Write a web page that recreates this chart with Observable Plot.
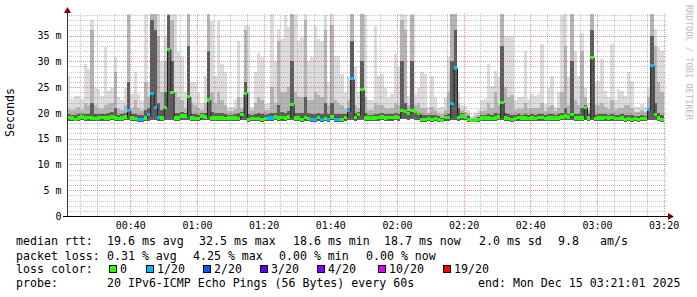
<!DOCTYPE html>
<html><head><meta charset="utf-8">
<script src="https://cdn.jsdelivr.net/npm/d3@7"></script>
<script src="https://cdn.jsdelivr.net/npm/@observablehq/plot@0.6"></script>
<style>html,body{margin:0;padding:0;background:#fff;} svg{display:block}</style>
</head><body><div id="chart"></div>
<script>
// ---- time frame (3 hours ending Mon Dec 15 03:21:01 2025), 60 s steps ----
const startTime = Date.UTC(2025, 11, 15, 0, 21, 1);
const endTime = Date.UTC(2025, 11, 15, 3, 21, 1);
const stepSec = 60;

// ---- smoke: ping RTT spread per 60 s step (ms) ----
const rttMax = [
 26.9,22.7,23.3,23.3,22.7,29.5,28.5,38.0,24.9,24.6,
 23.3,32.7,24.3,24.9,30.8,23.0,22.4,24.9,40,23.7,
 27.9,23.7,22.4,40,26.0,40,40,40,30.0,35.0,
 40,40,40,31.8,30.8,24.0,40,25.9,25.9,24.0,
 22.0,27.2,40,37.9,27.2,37.9,29.5,27.9,21.1,21.1,
 22.7,33.9,23.0,37.0,36.9,21.1,27.9,31.6,30.8,21.7,
 22.0,40,30.1,36.3,34.4,38.9,36.6,40,38.9,33.9,
 34.7,40,30.1,30.8,36.9,34.4,33.9,39.0,26.0,40,
 31.1,31.1,27.5,24.0,26.9,40,28.8,24.0,40,38.9,
 22.4,22.4,36.9,27.2,27.5,24.9,23.0,23.7,31.4,28.8,
 40,39.0,23.3,40,23.7,24.9,27.9,27.5,21.1,27.2,
 23.0,21.0,21.1,23.0,30.8,40,40,24.0,21.5,21.4,
 20.5,19.4,20.0,20.5,22.4,22.7,29.5,25.3,28.2,27.0,
 40,35.0,34.7,35.0,22.4,23.0,23.0,32.0,22.7,23.7,
 23.3,23.7,33.4,21.7,24.9,27.2,21.1,24.0,38.9,40,
 27.0,40,32.0,27.2,35.4,24.9,22.0,40,25.9,26.2,
 30.5,24.3,23.0,33.4,22.4,24.6,24.3,23.3,27.9,26.2,
 21.1,21.1,21.7,21.1,24.9,40,36.3,32.7,32.0
];
const rttP90 = [
 21.0,20.5,20.8,21.2,20.6,22.0,21.5,36.0,21.5,21.0,
 20.7,21.5,21.8,22.0,28.0,20.8,20.5,21.6,39.0,21.0,
 22.5,21.0,20.5,26.0,23.0,40,40,35.0,24.0,30.0,
 40,38.0,24.0,23.0,22.5,21.0,40,22.0,21.5,21.0,
 20.6,22.0,40,24.0,22.0,24.0,22.5,21.5,20.3,20.4,
 20.8,23.0,21.0,36.0,24.0,20.5,22.0,23.0,22.5,20.5,
 20.6,25.0,22.0,34.0,24.0,24.0,25.0,40,24.0,23.0,
 23.0,38.0,22.5,22.5,24.0,23.5,23.0,36.0,21.5,37.0,
 22.5,22.0,21.5,20.8,22.5,40,21.5,21.0,40,23.0,
 20.5,20.6,22.0,21.5,21.5,21.0,20.7,21.0,22.0,21.5,
 38.0,36.0,21.5,39.0,21.5,22.0,21.0,21.0,20.0,21.2,
 20.5,19.8,19.8,20.6,24.0,40,40,22.0,20.5,20.2,
 19.8,19.1,19.3,19.6,20.4,20.6,22.0,21.0,24.0,21.5,
 40,25.0,23.0,23.5,20.6,20.8,20.8,22.0,20.8,21.0,
 21.0,21.0,22.0,20.4,21.2,21.5,20.4,21.0,24.0,33.0,
 21.5,40,22.5,21.5,32.0,23.0,20.5,40,21.5,21.5,
 22.0,21.2,20.8,22.5,20.6,21.0,21.0,21.5,21.5,21.0,
 20.2,20.2,20.5,20.2,23.0,40,33.0,26.0,24.0
];
const rttP75 = [
 19.7,19.6,19.5,19.7,19.8,19.8,19.8,22.0,19.7,19.8,
 19.8,19.7,20.0,20.2,21.0,19.6,19.7,20.0,26.0,19.7,
 19.8,19.6,19.5,20.5,21.0,38.0,36.0,22.0,20.5,24.0,
 39.0,30.0,20.0,19.9,20.2,20.0,33.0,19.8,19.7,19.6,
 19.9,20.0,32.0,20.2,19.9,20.0,19.9,19.8,19.6,19.6,
 19.7,20.0,20.2,26.0,19.8,19.6,19.8,19.9,19.8,19.6,
 19.7,20.0,20.0,21.5,20.2,20.0,20.4,30.0,20.0,20.0,
 20.0,23.0,20.0,19.8,19.8,20.0,19.8,22.0,19.7,22.0,
 19.8,19.8,19.7,19.8,21.0,34.0,19.9,20.2,30.0,19.9,
 19.6,19.6,19.8,19.8,19.9,19.7,19.7,19.8,19.9,19.8,
 30.0,22.0,20.3,30.0,20.5,20.2,19.5,19.5,19.5,19.5,
 19.5,19.3,19.1,19.6,19.8,30.0,36.0,21.0,19.9,19.6,
 19.3,18.9,18.9,19.2,19.5,19.6,19.7,19.6,20.0,19.8,
 33.0,20.0,19.7,19.6,19.5,19.7,19.6,19.8,19.6,19.7,
 19.6,19.8,19.8,19.5,19.7,19.7,19.6,19.7,20.0,21.0,
 19.8,30.0,19.8,19.7,21.0,21.5,19.7,36.0,19.6,19.7,
 19.8,19.7,19.6,19.8,19.5,19.6,19.7,19.5,19.6,19.5,
 19.4,19.3,19.5,19.4,21.0,35.0,22.0,20.0,19.5
];
const rttMin = [
 18.5,18.5,18.4,18.5,18.6,18.5,18.5,18.5,18.4,18.5,
 18.5,18.5,18.5,18.6,18.5,18.4,18.5,18.6,18.6,18.5,
 18.4,18.3,18.3,18.5,18.5,18.6,18.6,18.5,18.5,18.6,
 18.7,18.6,18.5,18.5,18.6,18.6,18.6,18.5,18.4,18.4,
 18.6,18.6,18.6,18.5,18.5,18.5,18.5,18.4,18.5,18.5,
 18.5,18.4,18.6,18.6,18.3,18.4,18.4,18.4,18.3,18.4,
 18.4,18.4,18.6,18.5,18.5,18.5,18.6,18.6,18.5,18.5,
 18.3,18.5,18.4,18.3,18.3,18.5,18.3,18.4,18.3,18.6,
 18.3,18.3,18.3,18.5,18.6,18.7,18.5,18.6,18.6,18.5,
 18.5,18.5,18.5,18.5,18.6,18.5,18.5,18.5,18.6,18.5,
 18.8,18.8,18.6,18.8,18.7,18.6,18.3,18.3,18.4,18.3,
 18.4,18.3,18.2,18.5,18.5,18.6,18.7,18.5,18.6,18.6,
 18.3,18.2,18.2,18.3,18.5,18.5,18.5,18.4,18.5,18.6,
 18.6,18.5,18.4,18.3,18.4,18.5,18.5,18.5,18.4,18.5,
 18.4,18.5,18.5,18.4,18.5,18.5,18.5,18.5,18.6,18.6,
 18.6,18.6,18.5,18.5,18.5,18.6,18.5,18.7,18.4,18.5,
 18.5,18.5,18.5,18.5,18.4,18.4,18.5,18.3,18.4,18.3,
 18.4,18.3,18.4,18.4,18.6,18.7,18.6,18.5,18.2
];
// ---- median RTT (ms) and lost pings (of 20) per step ----
const medianRtt = [
 19.1,19.0,18.8,19.0,19.2,19.0,19.1,19.0,18.9,19.0,
 19.1,19.0,19.0,19.2,19.0,18.9,19.0,19.2,20.4,19.0,
 18.9,18.8,18.8,19.0,19.6,23.8,21.1,19.1,19.0,21.1,
 32.3,24.0,19.0,19.0,19.4,19.4,23.1,19.0,18.9,18.9,
 19.4,19.2,22.5,19.0,19.0,19.0,19.0,18.9,19.0,19.0,
 19.0,18.9,19.7,23.8,18.8,18.9,18.9,18.9,18.8,18.9,
 19.0,19.0,19.2,19.0,19.1,19.0,19.2,21.7,19.0,19.0,
 18.8,19.1,18.9,18.8,18.8,19.1,18.8,18.9,18.8,19.2,
 18.8,18.8,18.8,19.1,20.4,26.6,19.1,19.7,24.5,19.0,
 19.0,19.0,19.0,19.1,19.2,19.0,19.1,19.1,19.2,19.1,
 20.4,20.2,19.8,20.4,20.2,19.8,18.8,18.8,18.9,18.8,
 18.9,18.8,18.6,19.1,19.1,21.9,28.7,19.1,19.4,19.2,
 18.8,18.6,18.6,18.8,19.0,19.0,19.0,18.9,19.0,19.2,
 22.0,19.0,18.9,18.8,18.9,19.1,19.0,19.0,18.9,19.0,
 18.9,19.1,19.1,18.9,19.0,19.0,19.0,19.0,19.2,19.4,
 19.2,19.7,19.0,19.0,19.0,21.1,19.0,30.8,18.9,19.0,
 19.0,19.1,19.0,19.1,18.9,18.9,19.0,18.8,18.9,18.8,
 18.9,18.8,18.9,18.9,20.7,29.2,19.7,19.0,18.7
];
const lostPings = [
 0,0,0,0,0,0,0,0,0,0,
 0,0,0,0,0,0,0,0,1,0,
 0,1,1,0,1,1,1,1,0,0,
 0,0,0,0,0,0,0,0,0,0,
 0,0,0,0,0,0,0,0,0,0,
 0,0,0,0,0,0,0,0,0,0,
 1,1,0,0,0,0,0,0,0,0,
 0,0,0,1,1,0,1,0,1,0,
 1,1,0,0,1,1,0,0,0,0,
 0,0,0,0,0,0,0,0,0,0,
 0,0,0,0,0,0,0,0,0,0,
 0,0,0,0,0,1,1,0,0,0,
 0,0,0,0,0,0,0,0,0,0,
 0,0,0,0,0,0,0,0,0,0,
 0,0,0,0,0,0,0,0,0,0,
 0,0,0,0,0,0,0,0,0,0,
 0,0,0,0,0,0,0,0,0,0,
 0,0,0,0,1,1,0,0,0
];

// ---- loss colour legend ----
const lossLevels = [0, 1, 2, 3, 4, 10, 19];
const lossLabels = ["0", "1/20", "2/20", "3/20", "4/20", "10/20", "19/20"];
const lossColors = ["#26ff00", "#00b8ff", "#0059ff", "#5e00ff", "#7e00ff", "#dd00ff", "#ff0000"];

// ---- axis ticks / text ----
const yTicks = [0, 5, 10, 15, 20, 25, 30, 35];
const yMax = 39.17;
const medianStats = ["median rtt:", "19.6 ms avg", "32.5 ms max", "18.6 ms min", "18.7 ms now", "2.0 ms sd", "9.8", "am/s"];
const lossStats = ["packet loss:", "0.31 % avg", "4.25 % max", "0.00 % min", "0.00 % now"];
const probeText = ["probe:", "20 IPv6-ICMP Echo Pings (56 Bytes) every 60s", "end: Mon Dec 15 03:21:01 2025"];

function lossColor(l) {
  let c = lossColors[0];
  for (let i = 0; i < lossLevels.length; i++) if (l >= lossLevels[i]) c = lossColors[i];
  return c;
}

const samples = medianRtt.map((m, i) => ({
  t0: new Date(startTime + i * stepSec * 1000),
  t1: new Date(startTime + (i + 1) * stepSec * 1000),
  min: rttMin[i], max: rttMax[i], p90: rttP90[i], p75: rttP75[i],
  median: m, loss: lostPings[i], color: lossColor(lostPings[i])
}));

const minorY = d3.range(1, 40).filter(v => v % 5 !== 0);
const majorY = yTicks.filter(v => v > 0);
const t0 = new Date(startTime), t1 = new Date(endTime);
const gridTimes = d3.utcMinute.every(5).range(t0, t1);
const minorX = gridTimes.filter(d => d.getUTCMinutes() % 20 !== 0);
const majorX = gridTimes.filter(d => d.getUTCMinutes() % 20 === 0);

const fontMono = "'DejaVu Sans Mono', monospace";

const chart = Plot.plot({
  width: 697, height: 297,
  marginLeft: 67, marginRight: 30, marginTop: 14, marginBottom: 81,
  style: {fontFamily: fontMono, fontSize: "10px", background: "#fff", color: "#000"},
  x: {type: "utc", domain: [t0, t1]},
  y: {domain: [0, yMax]},
  color: {type: "identity"},
  marks: [
    Plot.rect(samples, {x1: "t0", x2: "t1", y1: "min", y2: "max", fill: "#dcdcdc", clip: true, shapeRendering: "crispEdges"}),
    Plot.rect(samples, {x1: "t0", x2: "t1", y1: "min", y2: "p90", fill: "#b4b4b4", clip: true, shapeRendering: "crispEdges"}),
    Plot.rect(samples, {x1: "t0", x2: "t1", y1: "min", y2: "p75", fill: "#5c5c5c", clip: true, shapeRendering: "crispEdges"}),
    Plot.ruleY(minorY, {stroke: "#8c8c8c", strokeOpacity: 0.5, strokeDasharray: "1,1", shapeRendering: "crispEdges"}),
    Plot.ruleX(minorX, {stroke: "#8c8c8c", strokeOpacity: 0.5, strokeDasharray: "1,1", shapeRendering: "crispEdges"}),
    Plot.ruleY(majorY, {stroke: "#d23c3c", strokeOpacity: 0.55, strokeDasharray: "1,1", shapeRendering: "crispEdges"}),
    Plot.ruleX(majorX, {stroke: "#d23c3c", strokeOpacity: 0.55, strokeDasharray: "1,1", shapeRendering: "crispEdges"}),
    Plot.line(samples, {x: "t0", y: "median", curve: "step-after", stroke: "#202020", strokeWidth: 1, clip: true}),
    Plot.rect(samples, {x1: "t0", x2: "t1", y1: d => d.median - 0.3, y2: d => d.median + 0.3, fill: "color", shapeRendering: "crispEdges"}),
    Plot.ruleY([0], {stroke: "#000", shapeRendering: "crispEdges"}),
    Plot.ruleX([t0], {stroke: "#333", shapeRendering: "crispEdges"}),
    Plot.axisX({ticks: d3.utcMinute.every(20), tickFormat: d3.utcFormat("%H:%M"), tickSize: 0, tickPadding: 5, label: null}),
    Plot.axisY({ticks: yTicks, tickFormat: d => d === 0 ? "0" : d + " m", tickSize: 0, tickPadding: 6, label: null})
  ]
});

document.getElementById("chart").appendChild(chart);
const svg = d3.select(chart);

// axis extensions and arrows
svg.append("line").attr("x1", 67.5).attr("x2", 67.5).attr("y1", 14).attr("y2", 12).attr("stroke", "#333");
svg.append("line").attr("x1", 63).attr("x2", 669).attr("y1", 216.5).attr("y2", 216.5).attr("stroke", "#000");
svg.append("polygon").attr("points", "64,13 71,13 67.5,7").attr("fill", "#7f0000");
svg.append("polygon").attr("points", "668,213 668,220 674,216.5").attr("fill", "#7f0000");

// all appended text left-aligned (Plot sets text-anchor=middle on its root)
const g = svg.append("g").attr("text-anchor", "start").attr("font-family", fontMono).attr("fill", "#000");

// y axis title
g.append("text").attr("transform", "translate(14,112.5) rotate(-90)")
  .attr("text-anchor", "middle").attr("font-size", "11.6px").text("Seconds");

// watermark
g.append("text").attr("transform", "translate(686,5) rotate(90)")
  .attr("font-size", "8.7px").attr("fill", "#bdbdbd").text("RRDTOOL / TOBI OETIKER");

// legend text rows
function row(items, xs, y) {
  items.forEach((s, i) => {
    g.append("text").attr("x", xs[i]).attr("y", y).attr("text-anchor", "start")
      .attr("font-size", "11.6px").attr("xml:space", "preserve").text(s);
  });
}
row(medianStats, [16, 107, 199, 293, 384, 479, 558, 600], 244.5);
row(lossStats, [16, 107, 193, 279, 366], 259.5);
row(["loss color:"], [16], 273);
const swatchX = [109, 146, 203, 260, 317, 378, 443];
lossLabels.forEach((lab, i) => {
  g.append("rect").attr("x", swatchX[i] + 0.5).attr("y", 265.5).attr("width", 7).attr("height", 7)
    .attr("fill", lossColors[i]).attr("stroke", "#000").attr("stroke-width", 1);
  g.append("text").attr("x", swatchX[i] + 11).attr("y", 273).attr("text-anchor", "start")
    .attr("font-size", "11.6px").text(lab);
});
row(probeText, [16, 107, 478], 287);
</script>
</body></html>
